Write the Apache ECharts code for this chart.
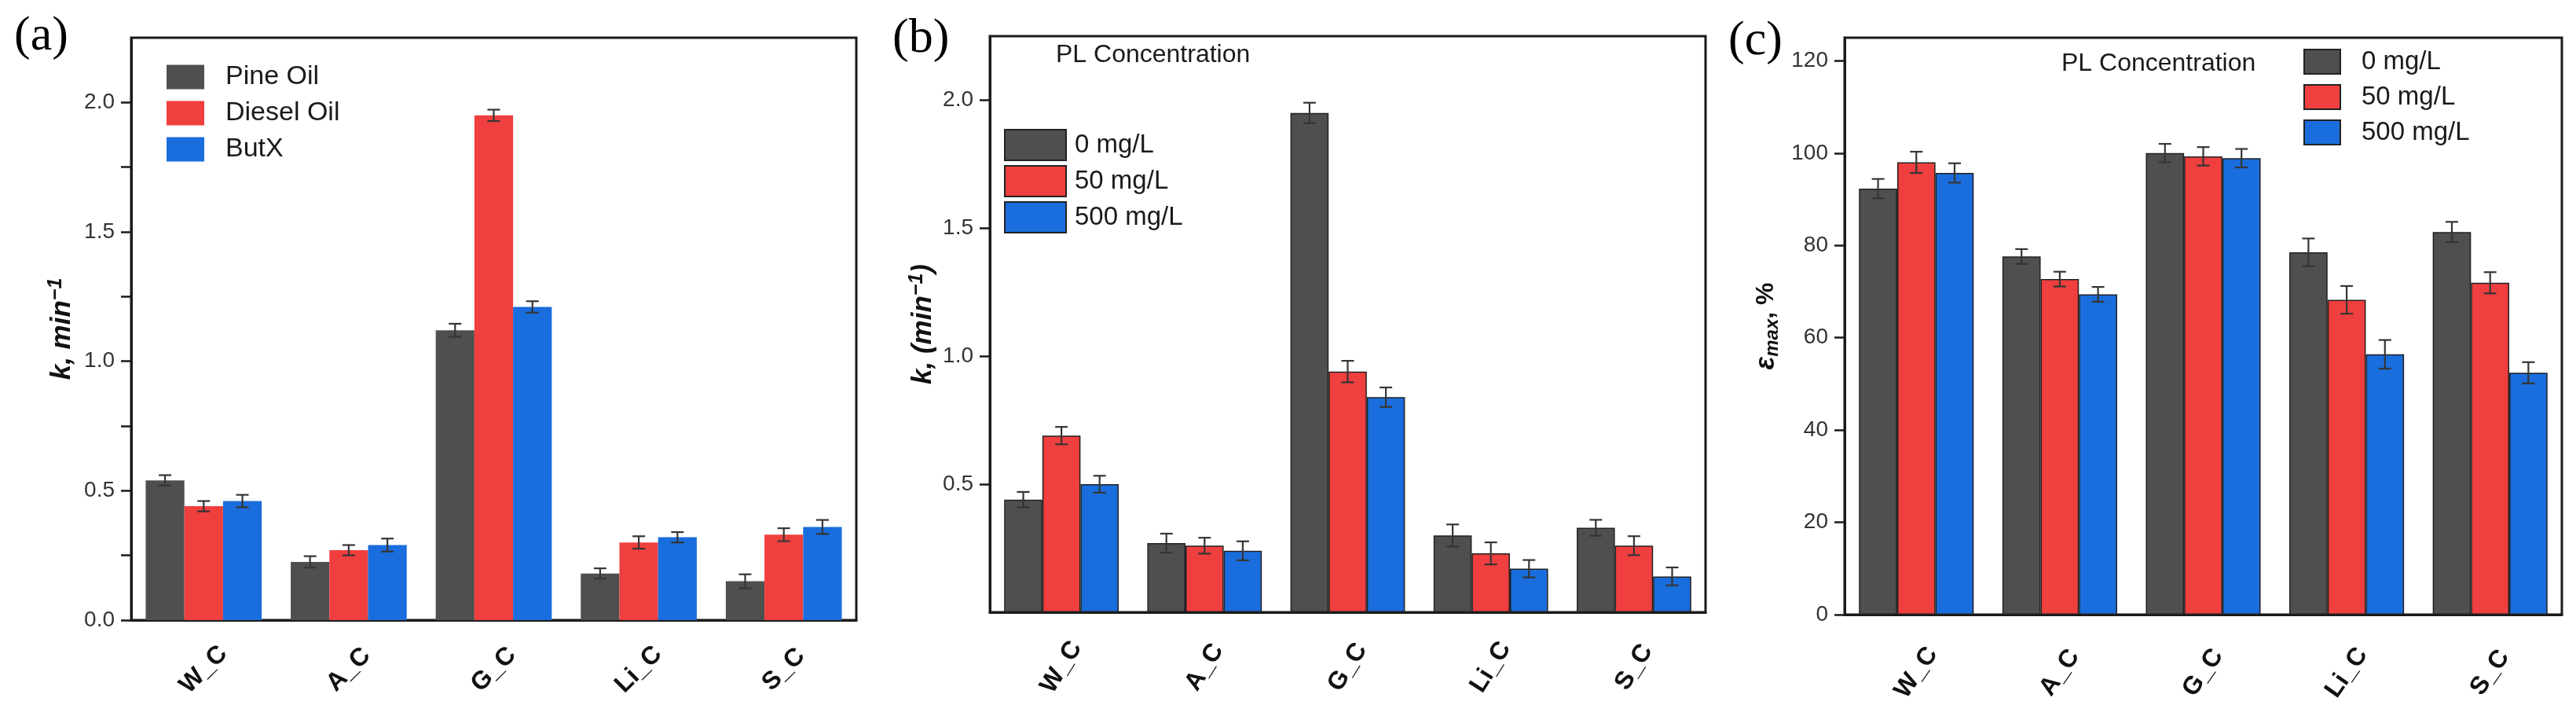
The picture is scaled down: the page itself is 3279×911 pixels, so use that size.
<!DOCTYPE html>
<html>
<head>
<meta charset="utf-8">
<script src="https://cdn.jsdelivr.net/npm/echarts@6/dist/echarts.min.js"></script>
<style>
html,body{margin:0;padding:0;background:#fff;}
#chart{width:3279px;height:911px;}
</style>
</head>
<body>
<div id="chart"></div>
<script>
// ---------- data ----------
const categories = ['W_C', 'A_C', 'G_C', 'Li_C', 'S_C'];

// (a) collectors, k (min^-1)
const aNames = ['Pine Oil', 'Diesel Oil', 'ButX'];
const kPine = [0.54, 0.225, 1.12, 0.18, 0.15];
const kDiesel = [0.44, 0.27, 1.95, 0.30, 0.33];
const kButX = [0.46, 0.29, 1.21, 0.32, 0.36];
const kPineErr = [0.02, 0.022, 0.025, 0.02, 0.027];
const kDieselErr = [0.02, 0.02, 0.022, 0.024, 0.025];
const kButXErr = [0.024, 0.025, 0.022, 0.02, 0.027];

// (b) PL concentration, k (min^-1)
const plNames = ['0 mg/L', '50 mg/L', '500 mg/L'];
const kPL0 = [0.44, 0.27, 1.95, 0.30, 0.33];
const kPL50 = [0.69, 0.26, 0.94, 0.23, 0.26];
const kPL500 = [0.50, 0.24, 0.84, 0.17, 0.14];
const kPL0Err = [0.03, 0.037, 0.04, 0.043, 0.031];
const kPL50Err = [0.034, 0.031, 0.042, 0.043, 0.037];
const kPL500Err = [0.033, 0.037, 0.038, 0.034, 0.035];

// (c) PL concentration, eps_max (%)
const epsPL0 = [92.3, 77.6, 100.0, 78.5, 82.9];
const epsPL50 = [98.0, 72.7, 99.3, 68.2, 71.9];
const epsPL500 = [95.7, 69.4, 98.9, 56.4, 52.4];
const epsPL0Err = [2.1, 1.6, 2.0, 3.0, 2.2];
const epsPL50Err = [2.3, 1.6, 2.0, 3.0, 2.3];
const epsPL500Err = [2.1, 1.6, 2.0, 3.1, 2.3];

// tick values / labels
const aTickValues = [0, 0.25, 0.5, 0.75, 1.0, 1.25, 1.5, 1.75, 2.0];
const aLabelValues = [0, 0.5, 1.0, 1.5, 2.0];
const bTickValues = [0.5, 1.0, 1.5, 2.0];
const bLabelValues = [0.5, 1.0, 1.5, 2.0];
const cTickValues = [0, 20, 40, 60, 80, 100, 120];

// ---------- styling ----------
const COLORS = ['#4f4f4f', '#f03f3f', '#1a6ddc'];
const FONT = 'Liberation Sans, Arial, Helvetica, sans-serif';
const SERIF = 'Liberation Serif, Times New Roman, serif';
const BAR_GAP_FRAC = 0.2;

function errRenderer(slot) {
  return function (params, api) {
    const i = api.value(0), v = api.value(1), e = api.value(2);
    const band = api.size([1, 0])[0];
    const bw = band * (1 - BAR_GAP_FRAC) / 3;
    const c = api.coord([i, v]);
    const x = c[0] + (slot - 1) * bw;
    const yT = api.coord([i, v + e])[1];
    const yB = api.coord([i, v - e])[1];
    const cap = 8;
    const style = { stroke: '#353535', lineWidth: 2.2 };
    return {
      type: 'group',
      children: [
        { type: 'line', shape: { x1: x, y1: yT, x2: x, y2: yB }, style: style },
        { type: 'line', shape: { x1: x - cap, y1: yT, x2: x + cap, y2: yT }, style: style },
        { type: 'line', shape: { x1: x - cap, y1: yB, x2: x + cap, y2: yB }, style: style }
      ]
    };
  };
}

function panelSeries(gi, names, vals, errs, border) {
  const out = [];
  vals.forEach(function (arr, s) {
    out.push({
      type: 'bar', name: names[s], xAxisIndex: gi, yAxisIndex: gi,
      data: arr, barGap: '0%', barCategoryGap: (BAR_GAP_FRAC * 100) + '%',
      itemStyle: border ? { color: COLORS[s], borderColor: '#222', borderWidth: 1.5 }
                        : { color: COLORS[s] },
      z: 2
    });
  });
  errs.forEach(function (arr, s) {
    out.push({
      type: 'custom', xAxisIndex: gi, yAxisIndex: gi,
      data: arr.map(function (e, i) { return [i, vals[s][i], e]; }),
      encode: { x: 0, y: 1 },
      renderItem: errRenderer(s), z: 5, silent: true
    });
  });
  return out;
}

function xAxisCfg(gi, rot, margin) {
  return {
    type: 'category', gridIndex: gi, data: categories,
    axisLine: { lineStyle: { color: '#1a1a1a', width: 3 } },
    axisTick: { alignWithLabel: true, length: 13, lineStyle: { color: '#1a1a1a', width: 2.5 } },
    axisLabel: { rotate: rot, margin: margin, align: 'center', verticalAlign: 'middle',
      fontFamily: FONT, fontWeight: 'bold', fontSize: 32, color: '#111' }
  };
}

function yAxisCfg(gi, max, ticks, labels, fmt, name, rich, gap) {
  return {
    type: 'value', gridIndex: gi, min: 0, max: max,
    splitLine: { show: false },
    axisLine: { show: true, lineStyle: { color: '#1a1a1a', width: 3 } },
    axisTick: { show: true, length: 13, customValues: ticks, lineStyle: { color: '#1a1a1a', width: 2.5 } },
    axisLabel: { customValues: labels, formatter: fmt, margin: 21,
      fontFamily: FONT, fontSize: 28, color: '#333' },
    name: name, nameLocation: 'middle', nameRotate: 90, nameGap: gap,
    nameTextStyle: { rich: rich }
  };
}

const kRich = {
  i: { fontFamily: FONT, fontSize: 35, fontWeight: 'bold', fontStyle: 'italic', color: '#111', lineHeight: 40, verticalAlign: 'middle' },
  sup: { fontFamily: FONT, fontSize: 25, fontWeight: 'bold', fontStyle: 'italic', color: '#111', verticalAlign: 'top', lineHeight: 26 }
};
const eRich = {
  i: { fontFamily: FONT, fontSize: 35, fontWeight: 'bold', fontStyle: 'italic', color: '#111', lineHeight: 40, verticalAlign: 'middle' },
  sub: { fontFamily: FONT, fontSize: 24, fontStyle: 'italic', fontWeight: 'bold', color: '#111', verticalAlign: 'bottom', lineHeight: 26 },
  n: { fontFamily: FONT, fontSize: 32, fontWeight: 'bold', color: '#111', lineHeight: 40, verticalAlign: 'middle' }
};

const fmt1 = function (v) { return v.toFixed(1); };
const fmt0 = function (v) { return String(Math.round(v)); };

const gridBorder = { show: true, borderColor: '#1a1a1a', borderWidth: 3, backgroundColor: 'transparent' };
const panelTitle = { fontFamily: SERIF, fontSize: 62, fontWeight: 'normal', color: '#000' };
const plTitle = { fontFamily: FONT, fontSize: 32, fontWeight: 'normal', color: '#1a1a1a' };

const option = {
  backgroundColor: '#fff',
  animation: false,
  title: [
    { text: '(a)', left: 18, top: 16, padding: 0, textStyle: panelTitle },
    { text: '(b)', left: 1136, top: 19, padding: 0, textStyle: panelTitle },
    { text: '(c)', left: 2200, top: 22, padding: 0, textStyle: panelTitle },
    { text: 'PL Concentration', left: 1344, top: 54, padding: 0, textStyle: plTitle },
    { text: 'PL Concentration', left: 2624, top: 65, padding: 0, textStyle: plTitle }
  ],
  legend: [
    { data: aNames, orient: 'vertical', left: 212, top: 81, padding: 0, itemWidth: 48, itemHeight: 31, itemGap: 12,
      icon: 'rect', selectedMode: false,
      textStyle: { fontFamily: FONT, fontSize: 34, color: '#1a1a1a', padding: [0, 0, 0, 22] } },
    { data: plNames, orient: 'vertical', left: 1278, top: 164, padding: 0, itemWidth: 78, itemHeight: 39, itemGap: 5,
      icon: 'rect', selectedMode: false,
      textStyle: { fontFamily: FONT, fontSize: 33, color: '#1a1a1a', padding: [0, 0, 0, 6] } },
    { data: plNames, orient: 'vertical', left: 2932, top: 62, padding: 0, itemWidth: 46, itemHeight: 31, itemGap: 12,
      icon: 'rect', selectedMode: false,
      textStyle: { fontFamily: FONT, fontSize: 33, color: '#1a1a1a', padding: [0, 0, 0, 22] } }
  ],
  grid: [
    Object.assign({ left: 167, top: 48, width: 923, height: 741 }, gridBorder),
    Object.assign({ left: 1260, top: 46, width: 911, height: 733 }, gridBorder),
    Object.assign({ left: 2348, top: 48, width: 913, height: 734 }, gridBorder)
  ],
  xAxis: [
    xAxisCfg(0, 45, 63),
    xAxisCfg(1, 58, 70),
    xAxisCfg(2, 55, 74)
  ],
  yAxis: [
    yAxisCfg(0, 2.25, aTickValues, aLabelValues, fmt1, '{i|k, min}{sup|−1}', kRich, 68),
    yAxisCfg(1, 2.25, bTickValues, bLabelValues, fmt1, '{i|k, (min}{sup|−1}{i|)}', kRich, 65),
    yAxisCfg(2, 125, cTickValues, cTickValues, fmt0, '{i|ε}{sub|max}{n|, %}', eRich, 80)
  ],
  series: [].concat(
    panelSeries(0, aNames, [kPine, kDiesel, kButX], [kPineErr, kDieselErr, kButXErr], false),
    panelSeries(1, plNames, [kPL0, kPL50, kPL500], [kPL0Err, kPL50Err, kPL500Err], true),
    panelSeries(2, plNames, [epsPL0, epsPL50, epsPL500], [epsPL0Err, epsPL50Err, epsPL500Err], true)
  )
};

const chart = echarts.init(document.getElementById('chart'), null, { renderer: 'canvas' });
chart.setOption(option);
</script>
</body>
</html>
